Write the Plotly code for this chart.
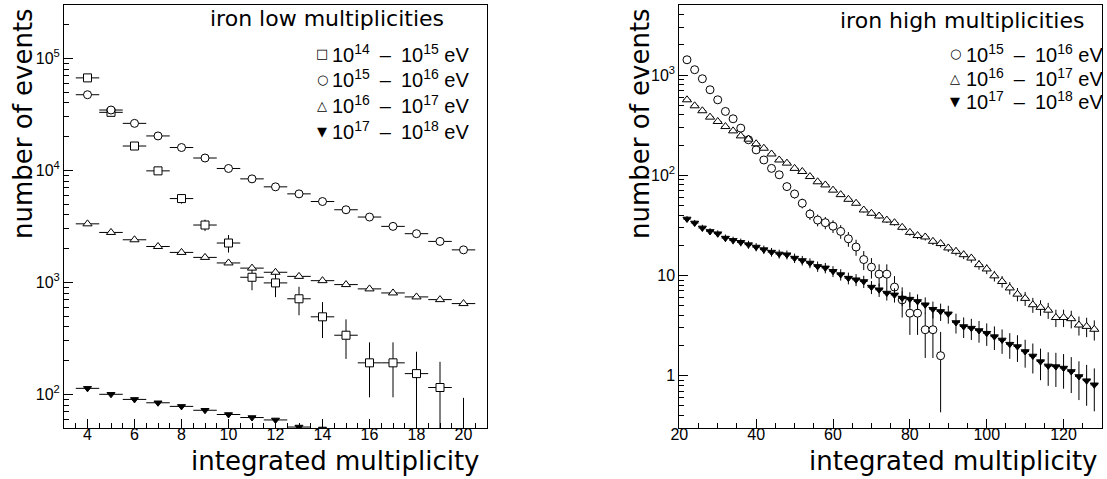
import math
import plotly.graph_objects as go

W, H = 1107, 479

# ---------------- left panel: iron low multiplicities ----------------
x_low = list(range(4, 21))
low_e14 = [67000, 33000, 16500, 9900, 5600, 3250, 2245, 1110, 988, 713, 492, 337, 191, 191, 153, 115, 20]
low_e14_err_up = [1900, 1350, 950, 740, 550, 380, 400, 280, 250, 200, 174, 130, 100, 100, 87, 80, 73]
low_e14_err_dn = [1900, 1350, 950, 740, 550, 380, 400, 260, 250, 205, 174, 130, 97, 97, 110, 80, 19]
low_e15 = [47400, 34600, 26300, 20300, 16000, 12900, 10400, 8400, 7130, 6170, 5270, 4450, 3830, 3160, 2720, 2320, 1950]
low_e16 = [3330, 2790, 2400, 2090, 1850, 1670, 1490, 1340, 1230, 1130, 1035, 955, 874, 804, 741, 701, 646]
x_low17 = list(range(4, 15))
low_e17 = [113, 100, 90, 84, 78, 72, 66, 62, 59, 51, 49]

# ---------------- right panel: iron high multiplicities ----------------
x_high15 = list(range(22, 89, 2))
high_e15 = [1420, 1130, 918, 713, 566, 433, 366, 295, 226, 179, 142, 117, 101, 77, 65,
            52.5, 41, 35.7, 33.6, 31, 27.5, 23.2, 19.2, 14.4, 12.1, 10.3, 10.3, 7.65, 5.7, 4.2,
            4.2, 2.87, 2.87, 1.58]
high_e15_err = [30, 27, 24, 22, 19, 17, 15, 14, 12, 11, 10, 8.7, 8.1, 7.1, 6.5,
                5.8, 5.2, 4.8, 4.7, 4.5, 4.3, 3.9, 3.5, 3.1, 2.8, 2.6, 2.6, 2.2, 1.9, 1.65,
                1.65, 1.37, 1.37, 1.15]
x_high = list(range(22, 129, 2))
high_e16 = [566, 493, 440, 380, 344, 306, 277, 247, 229, 206, 186, 163, 142, 132, 117,
            109, 97, 86, 80, 71, 64, 57.5, 52.5, 45, 41.7, 39.2, 35.7, 33.6, 30.2, 26.9,
            25, 24.2, 21.9, 20.8, 18.8, 17.4, 16.1, 14.9, 12.8, 11.6, 9.9, 8.7, 7.5, 6.5, 5.9,
            5.1, 4.8, 4.5, 3.8, 3.8, 3.7, 3.2, 3.1, 2.9]
high_e16_err = [9.2, 8.6, 8.1, 7.5, 7.2, 6.8, 6.4, 6.1, 5.9, 5.6, 5.3, 4.9, 4.6, 4.4, 4.2,
                4.0, 3.8, 3.6, 3.5, 3.3, 3.1, 2.9, 2.8, 2.6, 2.5, 2.4, 2.3, 2.2, 2.1, 2.0,
                1.9, 1.9, 1.8, 1.8, 1.7, 1.6, 1.55, 1.5, 1.4, 1.3, 1.2, 1.15, 1.06, 0.99, 0.94,
                0.87, 0.85, 0.82, 0.75, 0.75, 0.74, 0.69, 0.68, 0.66]
high_e17 = [36.6, 33.4, 29.8, 27.5, 26.1, 23.6, 22.4, 21.4, 20.3, 19.2, 18.1, 17.1, 16.4, 16.1, 14.9,
            14.1, 13.3, 12.3, 11.9, 11.0, 10.2, 9.4, 9.06, 8.7, 7.65, 7.2, 6.67, 6.4, 5.94, 5.8,
            5.5, 5.1, 4.6, 4.37, 4.14, 3.39, 3.09, 2.98, 2.82, 2.65, 2.45, 2.27, 2.06, 1.95, 1.74,
            1.57, 1.38, 1.25, 1.23, 1.19, 1.1, 0.98, 0.89, 0.81]
high_e17_err = [2.5, 2.4, 2.25, 2.16, 2.1, 2.0, 1.95, 1.9, 1.86, 1.8, 1.75, 1.7, 1.67, 1.65, 1.6,
                1.55, 1.5, 1.45, 1.42, 1.37, 1.32, 1.26, 1.24, 1.22, 1.14, 1.1, 1.06, 1.04, 1.0, 0.99,
                0.97, 0.93, 0.88, 0.86, 0.84, 0.76, 0.72, 0.71, 0.69, 0.67, 0.65, 0.62, 0.59, 0.58, 0.54,
                0.52, 0.48, 0.46, 0.46, 0.45, 0.43, 0.41, 0.39, 0.37]

SP = "\u2002"
low_legend = [f"10<sup>14</sup>{SP}–{SP}10<sup>15</sup> eV", f"10<sup>15</sup>{SP}–{SP}10<sup>16</sup> eV",
              f"10<sup>16</sup>{SP}–{SP}10<sup>17</sup> eV", f"10<sup>17</sup>{SP}–{SP}10<sup>18</sup> eV"]
high_legend = [f"10<sup>15</sup>{SP}–{SP}10<sup>16</sup> eV", f"10<sup>16</sup>{SP}–{SP}10<sup>17</sup> eV",
               f"10<sup>17</sup>{SP}–{SP}10<sup>18</sup> eV"]
low_ticks = [1e2, 1e3, 1e4, 1e5]
low_ticktext = ["10<sup>2</sup>", "10<sup>3</sup>", "10<sup>4</sup>", "10<sup>5</sup>"]
high_ticks = [1, 10, 100, 1000]
high_ticktext = ["1", "10", "10<sup>2</sup>", "10<sup>3</sup>"]

BLACK = "black"
TXT = "Liberation Sans"
TITLE = "DejaVu Sans"


def marker(symbol, size, filled):
    return dict(symbol=symbol, size=size,
                color=BLACK if filled else "white",
                line=dict(color=BLACK, width=1))


def ex(v):
    return dict(type="constant", value=v, width=0, thickness=1, color=BLACK)


def ey(up, dn=None):
    d = dict(type="data", array=up, symmetric=dn is None, width=0, thickness=1, color=BLACK)
    if dn is not None:
        d["arrayminus"] = dn
    return d


fig = go.Figure()
# left
fig.add_trace(go.Scatter(x=x_low, y=low_e14, mode="markers", marker=marker("square", 8, False),
                         error_x=ex(0.5), error_y=ey(low_e14_err_up, low_e14_err_dn),
                         xaxis="x", yaxis="y", showlegend=False))
fig.add_trace(go.Scatter(x=x_low, y=low_e15, mode="markers", marker=marker("circle", 8, False),
                         error_x=ex(0.5), xaxis="x", yaxis="y", showlegend=False))
fig.add_trace(go.Scatter(x=x_low, y=low_e16, mode="markers", marker=marker("triangle-up", 8, False),
                         error_x=ex(0.5), xaxis="x", yaxis="y", showlegend=False))
fig.add_trace(go.Scatter(x=x_low17, y=low_e17, mode="markers", marker=marker("triangle-down", 7, True),
                         error_x=ex(0.5), xaxis="x", yaxis="y", showlegend=False))
# right
fig.add_trace(go.Scatter(x=x_high15, y=high_e15, mode="markers", marker=marker("circle", 8, False),
                         error_x=ex(1), error_y=ey(high_e15_err),
                         xaxis="x2", yaxis="y2", showlegend=False))
fig.add_trace(go.Scatter(x=x_high, y=high_e16, mode="markers", marker=marker("triangle-up", 8, False),
                         error_x=ex(1), error_y=ey(high_e16_err),
                         xaxis="x2", yaxis="y2", showlegend=False))
fig.add_trace(go.Scatter(x=x_high, y=high_e17, mode="markers", marker=marker("triangle-down", 7, True),
                         error_x=ex(1), error_y=ey(high_e17_err),
                         xaxis="x2", yaxis="y2", showlegend=False))


def log_minor(lo, hi):
    return [m * 10 ** e for e in range(lo, hi) for m in range(2, 10)]


common = dict(showline=True, linecolor=BLACK, linewidth=1, mirror=True, showgrid=False,
              zeroline=False, ticks="inside", ticklen=9, tickwidth=1, tickcolor=BLACK,
              automargin=False, tickfont=dict(family=TXT, size=16, color=BLACK))

ydom = [51 / H, 474 / H]
fig.update_layout(
    width=W, height=H, paper_bgcolor="white", plot_bgcolor="white",
    margin=dict(l=0, r=0, t=0, b=0, autoexpand=False),
    xaxis=dict(domain=[64 / W, 487 / W], range=[3, 21], anchor="y", tick0=0, dtick=2,
               ticklabelstandoff=-8,
               minor=dict(ticks="inside", ticklen=5, tick0=0, dtick=0.5, tickcolor=BLACK), **common),
    yaxis=dict(domain=ydom, type="log", range=[math.log10(50), math.log10(3e5)], anchor="x",
               tickmode="array", tickvals=low_ticks, ticktext=low_ticktext,
               minor=dict(ticks="inside", ticklen=5, tickmode="array", tickvals=log_minor(1, 6),
                          tickcolor=BLACK), **common),
    xaxis2=dict(domain=[679.3 / W, 1102 / W], range=[20, 130], anchor="y2", tick0=0, dtick=20,
                ticklabelstandoff=-8,
                minor=dict(ticks="inside", ticklen=5, tick0=0, dtick=5, tickcolor=BLACK), **common),
    yaxis2=dict(domain=ydom, type="log", range=[math.log10(0.3), math.log10(5000)], anchor="x2",
                tickmode="array", tickvals=high_ticks, ticktext=high_ticktext,
                minor=dict(ticks="inside", ticklen=5, tickmode="array", tickvals=log_minor(-1, 4),
                           tickcolor=BLACK), **common),
)


def px(x, y):
    return x / W, 1 - y / H


ann = []


def add(text, x, y, xa, ya, size, family, angle=0):
    xx, yy = px(x, y)
    ann.append(dict(text=text, x=xx, y=yy, xref="paper", yref="paper", xanchor=xa, yanchor=ya,
                    showarrow=False, textangle=angle, font=dict(family=family, size=size, color=BLACK)))


# panel titles
add("iron low multiplicities", 446, 18, "right", "middle", 22, TITLE)
add("iron high multiplicities", 1086, 20, "right", "middle", 22, TITLE)
# axis titles
add("integrated multiplicity", 481, 461, "right", "middle", 26, TITLE)
add("integrated multiplicity", 1099, 461, "right", "middle", 26, TITLE)
add("number of events", 23, 124, "center", "middle", 26, TITLE, -90)
add("number of events", 640, 124, "center", "middle", 26, TITLE, -90)
# legends
low_sym = ["□", "○", "△", "▼"]
low_rows = [53, 78, 104, 130]
for s, t, y in zip(low_sym, low_legend, low_rows):
    add(s, 322, y + 1, "center", "middle", 13, "DejaVu Sans")
    add(t, 471, y, "right", "middle", 20, TXT)
high_sym = ["○", "△", "▼"]
high_rows = [53, 77, 101]
for s, t, y in zip(high_sym, high_legend, high_rows):
    add(s, 955, y + 1, "center", "middle", 13, "DejaVu Sans")
    add(t, 1105, y, "right", "middle", 20, TXT)

fig.update_layout(annotations=ann)
fig.write_html("out.html", config={"displayModeBar": False},
               post_script="document.body.style.margin='0';document.body.style.padding='0';")
